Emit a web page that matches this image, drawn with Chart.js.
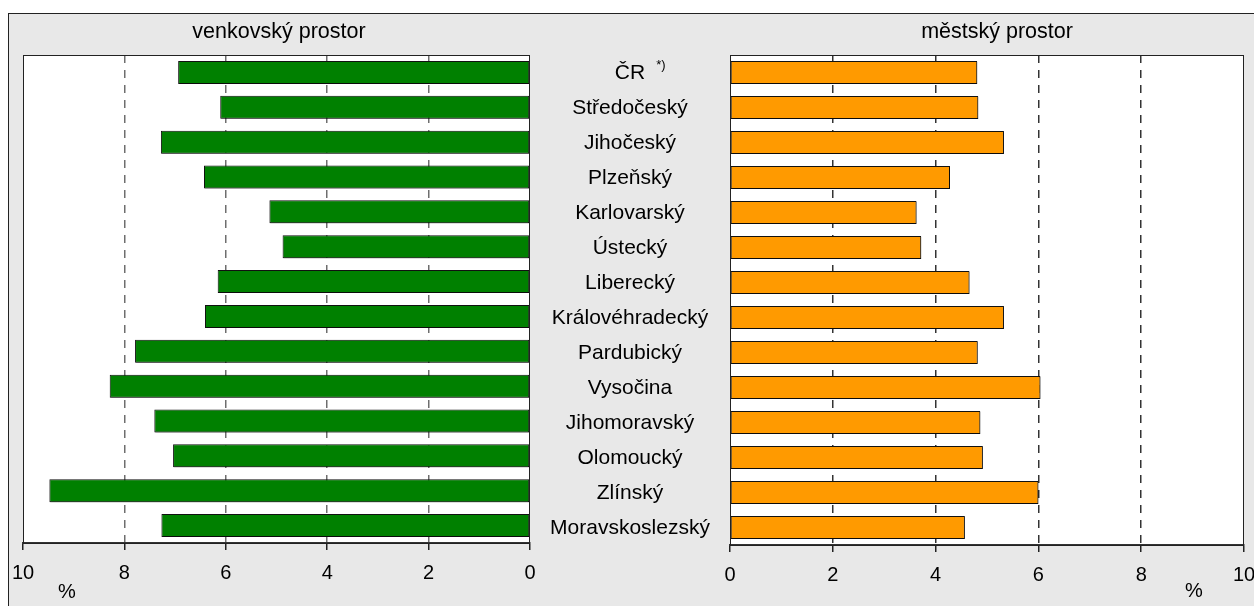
<!DOCTYPE html>
<html>
<head>
<meta charset="utf-8">
<script src="https://cdn.jsdelivr.net/npm/chart.js@4.4.1/dist/chart.umd.min.js"></script>
<style>
  body { margin: 0; background: #fff; font-family: "Liberation Sans", Arial, sans-serif; overflow: hidden; }
  #frame { position: absolute; left: 8px; top: 13px; width: 1260px; height: 610px;
           background: #e8e8e8; border: 1px solid #222; box-sizing: border-box; }
  canvas { position: absolute; top: 0; }
  .txt { position: absolute; color: #000; white-space: nowrap; transform: translate(-50%, -50%); }
</style>
</head>
<body>
<div id="frame"></div>
<canvas id="levy" width="540" height="606" style="left:0"></canvas>
<canvas id="pravy" width="724" height="606" style="left:530px"></canvas>
<div class="txt" style="left:279px; top:31px; font-size:21.5px">venkovský prostor</div>
<div class="txt" style="left:997px; top:31px; font-size:21.5px">městský prostor</div>
<div class="txt" style="left:67px; top:591px; font-size:20px">%</div>
<div class="txt" style="left:1194px; top:590px; font-size:20px">%</div>
<script>
// kraje a hodnoty (%)
const kraje = ['ČR', 'Středočeský', 'Jihočeský', 'Plzeňský', 'Karlovarský', 'Ústecký', 'Liberecký',
  'Královéhradecký', 'Pardubický', 'Vysočina', 'Jihomoravský', 'Olomoucký', 'Zlínský', 'Moravskoslezský'];
const venkov = [6.94, 6.11, 7.28, 6.43, 5.14, 4.88, 6.16, 6.41, 7.79, 8.29, 7.41, 7.04, 9.48, 7.27];
const mesto = [4.81, 4.83, 5.33, 4.28, 3.63, 3.72, 4.66, 5.33, 4.82, 6.04, 4.87, 4.92, 6.00, 4.57];
const osaTicks = [0, 2, 4, 6, 8, 10];
const poznamkaCR = '*)';

const FONT = '"Liberation Sans", Arial, sans-serif';

// bílá plocha grafu, stín sloupců a rámeček
const plocha = {
  id: 'plocha',
  beforeDraw(chart) {
    const a = chart.chartArea, c = chart.ctx;
    c.save();
    c.fillStyle = '#fff';
    c.fillRect(a.left, a.top, a.right - a.left, a.bottom - a.top);
    c.restore();
  },
  beforeDatasetsDraw(chart) {
    const c = chart.ctx;
    c.save();
    c.shadowColor = 'rgba(0,0,0,0.35)';
    c.shadowOffsetX = 1;
    c.shadowOffsetY = 1;
    c.shadowBlur = 0;
  },
  afterDatasetsDraw(chart) {
    const a = chart.chartArea, c = chart.ctx;
    c.restore();
    c.save();
    c.strokeStyle = '#222';
    c.lineWidth = 1;
    c.strokeRect(a.left + 0.5, a.top + 0.5, a.right - a.left - 1, a.bottom - a.top);
    c.restore();
  }
};

// názvy krajů uprostřed mezi grafy
const popisky = {
  id: 'popisky',
  afterDraw(chart) {
    const c = chart.ctx, y = chart.scales.y;
    const x = chart.chartArea.left - 100;
    c.save();
    c.fillStyle = '#000';
    c.textAlign = 'center';
    c.textBaseline = 'middle';
    c.font = '21px ' + FONT;
    kraje.forEach((k, i) => {
      const py = y.getPixelForValue(i) + 1;
      c.fillText(k, x, py);
      if (i === 0) {
        const w = c.measureText(k).width;
        c.save();
        c.font = '13px ' + FONT;
        c.textAlign = 'left';
        c.fillText(poznamkaCR, x + w / 2 + 11, py - 8);
        c.restore();
      }
    });
    c.restore();
  }
};

function moznosti(reverse, vyskaOsy, padLeft, padRight, gridColor) {
  return {
    indexAxis: 'y',
    responsive: false,
    devicePixelRatio: 1,
    animation: false,
    layout: { padding: { left: padLeft, right: padRight, top: 55, bottom: 0 } },
    plugins: { legend: { display: false }, tooltip: { enabled: false } },
    scales: {
      y: { display: false, offset: true },
      x: {
        min: 0, max: 10, reverse: reverse,
        afterBuildTicks: (s) => { s.ticks = osaTicks.map(v => ({ value: v })); },
        afterFit: (s) => { s.height = vyskaOsy; s.paddingLeft = 0; s.paddingRight = 0; },
        ticks: { color: '#000', font: { size: 20, family: FONT }, padding: 11, maxRotation: 0 },
        grid: {
          color: (ctx) => (ctx.tick && (ctx.tick.value === 0 || ctx.tick.value === 10)) ? 'rgba(0,0,0,0)' : gridColor,
          lineWidth: 1.5,
          tickColor: '#222',
          tickWidth: 1.5,
          tickLength: 7
        },
        border: { display: true, color: '#333', width: 2, dash: [8, 7] }
      }
    }
  };
}

new Chart(document.getElementById('levy'), {
  type: 'bar',
  data: {
    labels: kraje,
    datasets: [{
      data: venkov,
      backgroundColor: '#008000',
      borderColor: '#111',
      borderWidth: 1,
      borderSkipped: false,
      barPercentage: 0.66,
      categoryPercentage: 1
    }]
  },
  options: moznosti(true, 63, 23, 10, '#6e6e6e'),
  plugins: [plocha]
});

new Chart(document.getElementById('pravy'), {
  type: 'bar',
  data: {
    labels: kraje,
    datasets: [{
      data: mesto,
      backgroundColor: '#ff9a00',
      borderColor: '#111',
      borderWidth: 1,
      borderSkipped: false,
      barPercentage: 0.66,
      categoryPercentage: 1
    }]
  },
  options: moznosti(false, 61, 200, 10, '#333'),
  plugins: [plocha, popisky]
});
</script>
</body>
</html>
